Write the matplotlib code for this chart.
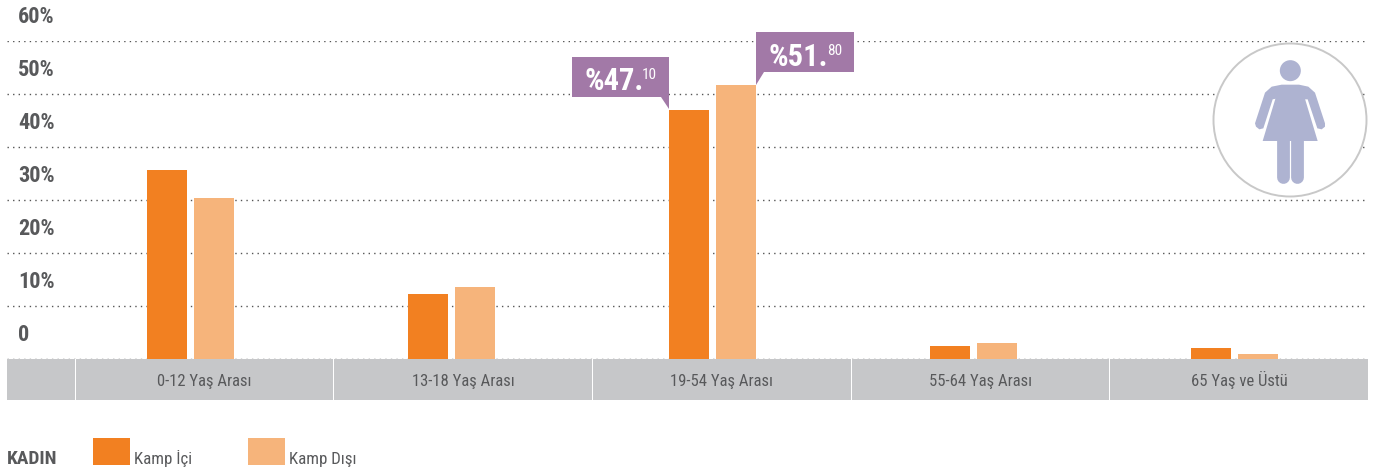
import matplotlib
matplotlib.use("Agg")
import matplotlib.pyplot as plt
from matplotlib.patches import Rectangle, Polygon, Circle

plt.rcParams["font.family"] = ["Roboto Condensed", "Roboto", "DejaVu Sans"]

categories = ["0-12 Yaş Arası", "13-18 Yaş Arası", "19-54 Yaş Arası", "55-64 Yaş Arası", "65 Yaş ve Üstü"]
kamp_ici = [35.6, 12.3, 47.0, 2.5, 2.1]
kamp_disi = [30.4, 13.6, 51.7, 3.0, 0.9]
yticks = [0, 10, 20, 30, 40, 50, 60]
series_names = ["Kamp İçi", "Kamp Dışı"]

W, H = 1376, 477
ORANGE, PEACH, PURPLE = "#F28021", "#F6B47B", "#A279A7"
GREY, TXT, ICON = "#C6C7C9", "#58595B", "#AEB3D1"
STEP = 261.1

fig = plt.figure(figsize=(W / 100, H / 100), dpi=100, facecolor="white")
ax = fig.add_axes([7 / W, 1 - 360 / H, (1368 - 7) / W, (360 - 42) / H])
ax.set_xlim((7 - 190.5) / STEP, (1368 - 190.5) / STEP)
ax.set_ylim(0, 60)
for s in ax.spines.values():
    s.set_visible(False)
ax.tick_params(length=0, labelbottom=False, labelleft=False)
ax.set_xticks([])
ax.set_yticks(yticks)
ax.grid(axis="y", color="#555555", lw=1.0, ls=(0, (1, 3)), zorder=0)
ax.set_axisbelow(True)

xs = list(range(len(categories)))
bw, off = 40 / STEP, 23.5 / STEP
ax.bar([x - off for x in xs], kamp_ici, bw, color=ORANGE, zorder=3)
ax.bar([x + off for x in xs], kamp_disi, bw, color=PEACH, zorder=3)

for v in yticks:
    ax.annotate(f"{v}%" if v else "0", xy=(0, v), xycoords=ax.get_yaxis_transform(),
                xytext=(8, 18.2), textcoords="offset points", ha="left", va="center",
                fontsize=16, fontweight="bold", color=TXT, zorder=5)

# overlay in pixel coordinates for the decorations (shifted to the reference's rows)
ov = fig.add_axes([0, 0, 1, 1], facecolor="none")
ov.set_xlim(0, W)
ov.set_ylim(H - 1, -1)
ov.axis("off")

# category band
cells = [(7, 75), (76, 333), (334, 592), (593, 851), (852, 1109), (1110, 1368)]
for a, b in cells:
    ov.add_patch(Rectangle((a, 359.5), b - a, 40.5, fc=GREY, ec="none"))
for (a, b), c in zip(cells[1:], categories):
    ov.text((a + b) / 2, 385.5, c, ha="center", va="baseline", fontsize=12, color=TXT)

# callouts
def callout(pts, tx, ty, main, sup, sx):
    ov.add_patch(Polygon(pts, closed=True, fc=PURPLE, ec="none", zorder=6))
    ov.text(tx, ty, main, color="white", fontsize=22, fontweight="bold", ha="left", va="baseline", zorder=7)
    ov.text(sx, ty - 11, sup, color="white", fontsize=11, ha="left", va="baseline", zorder=7)

callout([(572, 57), (669, 57), (669, 109), (661, 97), (572, 97)], 585, 89, "%47.", "10", 642)
callout([(756, 32), (854, 32), (854, 72), (764, 72), (756, 85)], 769, 65, "%51.", "80", 827)

# icon
ov.add_patch(Circle((1290, 120), 76.5, fc="white", ec="#C8C8C8", lw=1.4, zorder=4))
def z(x, y):
    return 1200 + x / 3, 60 + y / 3
ov.add_patch(Circle(z(271, 32), 10.5, fc=ICON, ec="none", zorder=5))
ov.add_patch(Polygon([z(*p) for p in [(245, 74), (297, 74), (325, 80), (345, 98), (375, 190), (375, 200),
                                       (365, 208), (352, 205), (323, 118), (313, 118), (313, 116), (228, 116),
                                       (218, 118), (190, 205), (178, 208), (168, 200), (165, 190), (195, 98),
                                       (215, 80)]],
                     closed=True, fc=ICON, ec="none", zorder=5))
ov.add_patch(Polygon([z(*p) for p in [(228, 110), (313, 110), (353, 243), (188, 243)]],
                     closed=True, fc=ICON, ec="none", zorder=5))
for x in (248, 292):
    pa, pb = z(x, 235), z(x, 352)
    ov.plot([pa[0], pb[0]], [pa[1], pb[1]], lw=9.2, color=ICON, solid_capstyle="round", zorder=5)

# legend
ov.text(7, 463.5, "KADIN", fontsize=14, fontweight="bold", color=TXT, ha="left", va="baseline")
for x0, tx, c, name in zip((93, 248), (134.5, 289), (ORANGE, PEACH), series_names):
    ov.add_patch(Rectangle((x0, 438.5), 37, 27, fc=c, ec="none"))
    ov.text(tx, 463.5, name, fontsize=12.2, color=TXT, ha="left", va="baseline")

fig.savefig("out.png", dpi=100, facecolor="white")
